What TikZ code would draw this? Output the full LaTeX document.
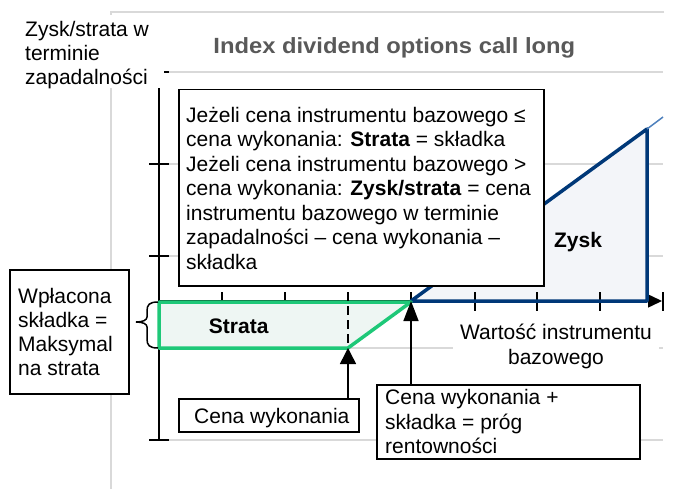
\documentclass[tikz,border=0pt]{standalone}
\usepackage{fontspec}
\setmainfont{Liberation Sans}
\usepackage{graphicx}
\usetikzlibrary{arrows.meta}
\definecolor{gridgray}{RGB}{217,217,217}
\definecolor{titlegray}{RGB}{89,89,89}
\definecolor{mint}{RGB}{30,200,120}
\definecolor{mintfill}{RGB}{238,246,243}
\definecolor{navy}{RGB}{0,56,120}
\definecolor{navyfill}{RGB}{243,245,249}
\definecolor{extblue}{RGB}{79,129,189}
\begin{document}
\begin{tikzpicture}[x=1pt,y=-1pt,
  txt/.style={font=\fontsize{21}{24.5}\selectfont, inner sep=0pt, align=left, anchor=north west},
  boxed/.style={draw=black, line width=1.5pt, fill=white, inner sep=0pt, anchor=north west},
  gridl/.style={draw=gridgray, line width=1.5pt},
  axisline/.style={draw=black, line width=1.5pt},
  arrowline/.style={draw=black, line width=1.5pt},
  greenpoly/.style={draw=mint, fill=mintfill, line width=3.5pt, line join=round},
  bluepoly/.style={draw=navy, line width=3.5pt, line join=round},
  boldlabel/.style={font=\fontsize{21}{24.5}\selectfont\bfseries, inner sep=0pt, anchor=base}
]
\useasboundingbox (0,0) rectangle (674,489);
% frame
\draw[gridl] (664,12) -- (111,12) -- (111,489);
% gridlines
\foreach \y in {72,164,256,348,440} \draw[gridl] (160,\y) -- (663,\y);
% profit area fill
\fill[navyfill] (411,301) -- (647,129) -- (647,301) -- cycle;
% axes
\draw[axisline] (159,72) -- (159,440);
\foreach \y in {72,164,256,440} \draw[axisline] (149,\y) -- (169,\y);
\draw[axisline, -{Triangle[length=14pt,width=13pt]}] (159,301) -- (662,301);
\foreach \x in {222,285,348,411,475,537,600,663} \draw[axisline] (\x,292) -- (\x,311);
% profit outline
\draw[bluepoly] (411,301) -- (647,129) -- (647,301) -- cycle;
\draw[extblue, line width=1.5pt] (647,129) -- (663,117);
% loss area
\filldraw[greenpoly] (159,302) -- (411,302) -- (348,348) -- (159,348) -- cycle;
\draw[black, line width=2.5pt, dash pattern=on 9pt off 5pt] (348,292) -- (348,348);
\coordinate (strike) at (348,348);
\coordinate (be) at (411,301);
% area labels
\node[boldlabel] (strata) at (238.7,333) {Strata};
\node[boldlabel] (zysk) at (578,247) {Zysk};
% big explanation box
\node[boxed, minimum width=365pt, minimum height=196pt] (big) at (178,89) {};
\node[txt] (bigt) at (186,104.85) {\strut Jeżeli cena instrumentu bazowego ≤\\
cena wykonania: \textbf{Strata} = składka\\
Jeżeli cena instrumentu bazowego >\\
cena wykonania: \textbf{Zysk/strata} = cena\\
instrumentu bazowego w terminie\\
zapadalności – cena wykonania –\\
składka};
% y axis label
\fill[white] (14,15) rectangle (164,88);
\node[txt, font=\fontsize{21}{24}\selectfont] (ylab) at (25,19.7) {\strut Zysk/strata w\\terminie\\zapadalności};
% title
\node[inner sep=0pt, anchor=base, text=titlegray, font=\fontsize{22}{26}\selectfont\bfseries] (title) at (394.3,53.3) {\scalebox{1.08}[1]{Index dividend options call long}};
% left box
\node[boxed, minimum width=119pt, minimum height=124pt] (wpl) at (9,269) {};
\node[txt, font=\fontsize{21}{24}\selectfont] (wplt) at (18,286.7) {\strut Wpłacona\\składka =\\Maksymal\\na strata};
\draw[black, line width=1.5pt] (158,302) .. controls (149,302) and (147,305) .. (147,311) -- (147,317) .. controls (147,320) and (143,322) .. (136,322) .. controls (143,322) and (147,324) .. (147,327) -- (147,339) .. controls (147,345) and (149,348) .. (158,348);
% x axis label
\node[txt, anchor=north, align=center, fill=white, inner xsep=7pt] (xlab) at (556,322.35) {\strut Wartość instrumentu\\bazowego};
% strike box
\node[boxed, minimum width=180pt, minimum height=33pt] (cena) at (178,398) {};
\node[txt, anchor=base west] (cenat) at (194,423) {Cena wykonania};
\draw[arrowline, -{Triangle[length=16pt,width=16pt]}] (cena.north -| strike) -- (strike);
% break-even box
\node[boxed, minimum width=263pt, minimum height=74pt] (prog) at (376,384) {};
\node[txt] (progt) at (385,387.35) {\strut Cena wykonania +\\składka = próg\\rentowności};
\draw[arrowline, -{Triangle[length=20pt,width=15pt]}] (prog.north -| be) -- (be);
\end{tikzpicture}
\end{document}
